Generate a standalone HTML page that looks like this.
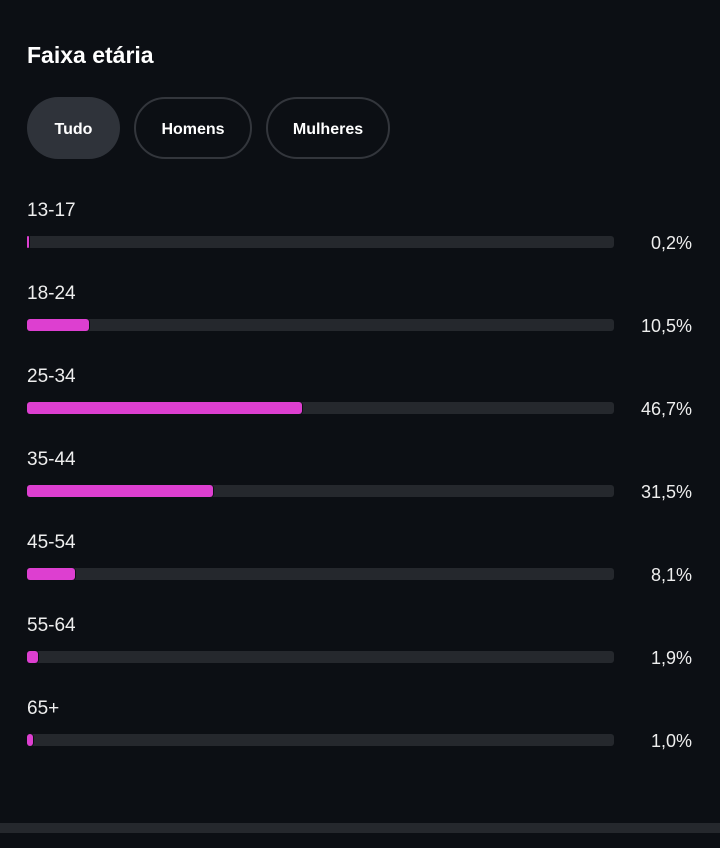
<!DOCTYPE html>
<html><head><meta charset="utf-8"><style>
body{margin:0;width:720px;height:848px;background:#0c0f14;position:relative;overflow:hidden;font-family:"Liberation Sans",Roboto,sans-serif;color:#f2f2f2}
.t{position:absolute;left:27px;top:42px;font-size:23px;font-weight:bold;color:#fff}
.chip{position:absolute;top:97px;height:62px;border-radius:31px;box-sizing:border-box;font-size:16px;font-weight:bold;display:flex;align-items:center;justify-content:center;color:#fff;padding-top:4px}
.lab{position:absolute;left:27px;font-size:19px;color:#eee}
.tr{position:absolute;left:27px;width:587px;height:12px;border-radius:3px;background:#25282d}
.f{position:absolute;left:0;top:0;height:12px;border-radius:3px;background:#dd3fd0;box-shadow:1px 0 0 #0c0f14}
.p{position:absolute;right:28px;font-size:18px;color:#eee}
</style></head><body>
<div class="t">Faixa etária</div>
<div class="chip" style="left:27px;width:93px;background:#2f333a">Tudo</div>
<div class="chip" style="left:134px;width:118px;border:2px solid #33363c">Homens</div>
<div class="chip" style="left:266px;width:124px;border:2px solid #33363c">Mulheres</div>

<div class="lab" style="top:200px">13-17</div><div class="tr" style="top:236px"><div class="f" style="width:2px"></div></div><div class="p" style="top:233px">0,2%</div>
<div class="lab" style="top:283px">18-24</div><div class="tr" style="top:319px"><div class="f" style="width:62px"></div></div><div class="p" style="top:316px">10,5%</div>
<div class="lab" style="top:366px">25-34</div><div class="tr" style="top:402px"><div class="f" style="width:275px"></div></div><div class="p" style="top:399px">46,7%</div>
<div class="lab" style="top:449px">35-44</div><div class="tr" style="top:485px"><div class="f" style="width:186px"></div></div><div class="p" style="top:482px">31,5%</div>
<div class="lab" style="top:532px">45-54</div><div class="tr" style="top:568px"><div class="f" style="width:48px"></div></div><div class="p" style="top:565px">8,1%</div>
<div class="lab" style="top:615px">55-64</div><div class="tr" style="top:651px"><div class="f" style="width:11px"></div></div><div class="p" style="top:648px">1,9%</div>
<div class="lab" style="top:698px">65+</div><div class="tr" style="top:734px"><div class="f" style="width:6px"></div></div><div class="p" style="top:731px">1,0%</div>

<div style="position:absolute;left:0;top:823px;width:720px;height:10px;background:#25282d"></div>
</body></html>
